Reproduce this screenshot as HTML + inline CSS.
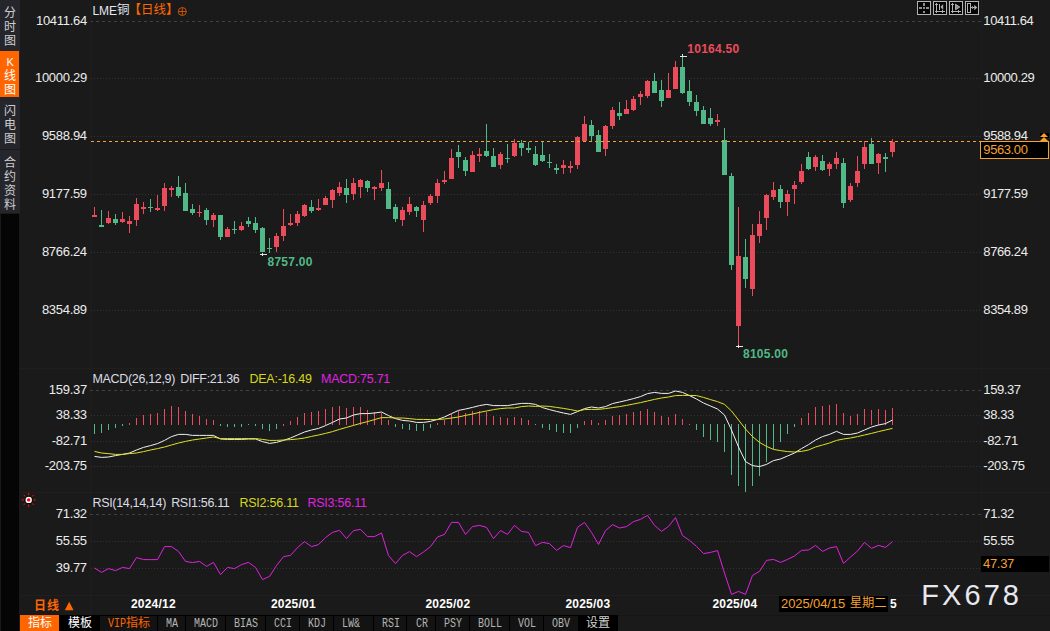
<!DOCTYPE html>
<html lang="zh"><head><meta charset="utf-8"><title>LME铜 日线</title>
<style>
html,body{margin:0;padding:0;background:#1a1a1a;}
body{width:1050px;height:631px;position:relative;overflow:hidden;font-family:"Liberation Sans",sans-serif;}
svg{position:absolute;left:0;top:0;}
.t{position:absolute;white-space:nowrap;}
.g{font-family:"Liberation Sans","Noto Sans CJK SC",sans-serif;pointer-events:none;}
</style></head><body>
<svg width="1050" height="631" viewBox="0 0 1050 631" shape-rendering="crispEdges">
<rect x="0" y="0" width="20" height="213" fill="#24262c"/>
<rect x="0" y="51" width="19" height="46" fill="#ff6600"/>
<rect x="0" y="149" width="20" height="1" fill="#1a1a1a"/>
<rect x="1" y="214" width="18" height="417" fill="#050505"/>
<line x1="90" y1="21.5" x2="981" y2="21.5" stroke="#404040" stroke-width="1" stroke-dasharray="3 3" stroke-dashoffset="0"/>
<line x1="90" y1="78.5" x2="981" y2="78.5" stroke="#333333" stroke-width="1" stroke-dasharray="1 2" stroke-dashoffset="-1"/>
<line x1="90" y1="136.5" x2="981" y2="136.5" stroke="#333333" stroke-width="1" stroke-dasharray="1 2" stroke-dashoffset="-1"/>
<line x1="90" y1="194.5" x2="981" y2="194.5" stroke="#333333" stroke-width="1" stroke-dasharray="1 2" stroke-dashoffset="-1"/>
<line x1="90" y1="252.5" x2="981" y2="252.5" stroke="#333333" stroke-width="1" stroke-dasharray="1 2" stroke-dashoffset="-1"/>
<line x1="90" y1="310.5" x2="981" y2="310.5" stroke="#333333" stroke-width="1" stroke-dasharray="1 2" stroke-dashoffset="-1"/>
<rect x="90" y="0" width="1" height="615" fill="#1e1e1e"/>
<rect x="981" y="0" width="1" height="596" fill="#1d1d1d"/>
<rect x="20" y="368" width="1030" height="1" fill="#1f1f1f"/>
<rect x="20" y="492" width="1030" height="1" fill="#1f1f1f"/>
<rect x="20" y="595" width="1030" height="1" fill="#1f1f1f"/>
<rect x="94" y="207" width="1" height="10" fill="#eb4c5c"/>
<rect x="92" y="215" width="5" height="2" fill="#eb4c5c"/>
<rect x="101" y="210" width="1" height="17" fill="#50b987"/>
<rect x="99" y="225" width="5" height="2" fill="#50b987"/>
<rect x="108" y="211" width="1" height="13" fill="#eb4c5c"/>
<rect x="106" y="218" width="5" height="5" fill="#eb4c5c"/>
<rect x="115" y="214" width="1" height="11" fill="#50b987"/>
<rect x="113" y="219" width="5" height="4" fill="#50b987"/>
<rect x="122" y="212" width="1" height="11" fill="#eb4c5c"/>
<rect x="120" y="219" width="5" height="3" fill="#eb4c5c"/>
<rect x="129" y="216" width="1" height="17" fill="#eb4c5c"/>
<rect x="127" y="221" width="5" height="3" fill="#eb4c5c"/>
<rect x="136" y="198" width="1" height="28" fill="#eb4c5c"/>
<rect x="134" y="204" width="5" height="16" fill="#eb4c5c"/>
<rect x="143" y="202" width="1" height="12" fill="#eb4c5c"/>
<rect x="141" y="207" width="5" height="2" fill="#eb4c5c"/>
<rect x="150" y="199" width="1" height="13" fill="#50b987"/>
<rect x="148" y="207" width="5" height="1" fill="#50b987"/>
<rect x="157" y="195" width="1" height="16" fill="#eb4c5c"/>
<rect x="155" y="208" width="5" height="2" fill="#eb4c5c"/>
<rect x="164" y="183" width="1" height="28" fill="#eb4c5c"/>
<rect x="162" y="188" width="5" height="18" fill="#eb4c5c"/>
<rect x="171" y="186" width="1" height="11" fill="#eb4c5c"/>
<rect x="169" y="188" width="5" height="2" fill="#eb4c5c"/>
<rect x="178" y="176" width="1" height="22" fill="#50b987"/>
<rect x="176" y="187" width="5" height="9" fill="#50b987"/>
<rect x="185" y="183" width="1" height="28" fill="#50b987"/>
<rect x="183" y="193" width="5" height="18" fill="#50b987"/>
<rect x="192" y="204" width="1" height="11" fill="#50b987"/>
<rect x="190" y="209" width="5" height="4" fill="#50b987"/>
<rect x="199" y="205" width="1" height="12" fill="#eb4c5c"/>
<rect x="197" y="212" width="5" height="1" fill="#eb4c5c"/>
<rect x="206" y="208" width="1" height="17" fill="#50b987"/>
<rect x="204" y="210" width="5" height="10" fill="#50b987"/>
<rect x="213" y="213" width="1" height="14" fill="#eb4c5c"/>
<rect x="211" y="215" width="5" height="5" fill="#eb4c5c"/>
<rect x="220" y="215" width="1" height="25" fill="#50b987"/>
<rect x="218" y="215" width="5" height="22" fill="#50b987"/>
<rect x="227" y="227" width="1" height="10" fill="#eb4c5c"/>
<rect x="225" y="229" width="5" height="8" fill="#eb4c5c"/>
<rect x="234" y="221" width="1" height="13" fill="#50b987"/>
<rect x="232" y="229" width="5" height="1" fill="#50b987"/>
<rect x="241" y="222" width="1" height="9" fill="#eb4c5c"/>
<rect x="239" y="226" width="5" height="4" fill="#eb4c5c"/>
<rect x="248" y="217" width="1" height="10" fill="#50b987"/>
<rect x="246" y="221" width="5" height="3" fill="#50b987"/>
<rect x="255" y="217" width="1" height="16" fill="#50b987"/>
<rect x="253" y="223" width="5" height="7" fill="#50b987"/>
<rect x="262" y="227" width="1" height="25" fill="#50b987"/>
<rect x="260" y="228" width="5" height="24" fill="#50b987"/>
<rect x="269" y="238" width="1" height="15" fill="#50b987"/>
<rect x="267" y="248" width="5" height="1" fill="#50b987"/>
<rect x="276" y="233" width="1" height="19" fill="#eb4c5c"/>
<rect x="274" y="236" width="5" height="11" fill="#eb4c5c"/>
<rect x="283" y="209" width="1" height="32" fill="#eb4c5c"/>
<rect x="281" y="226" width="5" height="10" fill="#eb4c5c"/>
<rect x="290" y="214" width="1" height="12" fill="#eb4c5c"/>
<rect x="288" y="223" width="5" height="2" fill="#eb4c5c"/>
<rect x="297" y="211" width="1" height="15" fill="#eb4c5c"/>
<rect x="295" y="214" width="5" height="9" fill="#eb4c5c"/>
<rect x="304" y="204" width="1" height="13" fill="#eb4c5c"/>
<rect x="302" y="205" width="5" height="11" fill="#eb4c5c"/>
<rect x="311" y="200" width="1" height="13" fill="#50b987"/>
<rect x="309" y="207" width="5" height="4" fill="#50b987"/>
<rect x="318" y="199" width="1" height="12" fill="#eb4c5c"/>
<rect x="316" y="208" width="5" height="2" fill="#eb4c5c"/>
<rect x="325" y="196" width="1" height="9" fill="#eb4c5c"/>
<rect x="323" y="198" width="5" height="7" fill="#eb4c5c"/>
<rect x="332" y="189" width="1" height="19" fill="#eb4c5c"/>
<rect x="330" y="190" width="5" height="10" fill="#eb4c5c"/>
<rect x="339" y="182" width="1" height="14" fill="#eb4c5c"/>
<rect x="337" y="187" width="5" height="6" fill="#eb4c5c"/>
<rect x="346" y="179" width="1" height="24" fill="#50b987"/>
<rect x="344" y="188" width="5" height="7" fill="#50b987"/>
<rect x="353" y="178" width="1" height="22" fill="#eb4c5c"/>
<rect x="351" y="183" width="5" height="11" fill="#eb4c5c"/>
<rect x="360" y="179" width="1" height="19" fill="#eb4c5c"/>
<rect x="358" y="180" width="5" height="7" fill="#eb4c5c"/>
<rect x="367" y="180" width="1" height="12" fill="#50b987"/>
<rect x="365" y="181" width="5" height="7" fill="#50b987"/>
<rect x="374" y="186" width="1" height="14" fill="#eb4c5c"/>
<rect x="372" y="187" width="5" height="2" fill="#eb4c5c"/>
<rect x="381" y="170" width="1" height="21" fill="#eb4c5c"/>
<rect x="379" y="183" width="5" height="5" fill="#eb4c5c"/>
<rect x="388" y="182" width="1" height="27" fill="#50b987"/>
<rect x="386" y="189" width="5" height="20" fill="#50b987"/>
<rect x="395" y="204" width="1" height="18" fill="#50b987"/>
<rect x="393" y="207" width="5" height="12" fill="#50b987"/>
<rect x="402" y="207" width="1" height="19" fill="#eb4c5c"/>
<rect x="400" y="210" width="5" height="10" fill="#eb4c5c"/>
<rect x="409" y="197" width="1" height="18" fill="#eb4c5c"/>
<rect x="407" y="204" width="5" height="8" fill="#eb4c5c"/>
<rect x="416" y="206" width="1" height="11" fill="#50b987"/>
<rect x="414" y="207" width="5" height="4" fill="#50b987"/>
<rect x="423" y="201" width="1" height="31" fill="#eb4c5c"/>
<rect x="421" y="205" width="5" height="15" fill="#eb4c5c"/>
<rect x="430" y="194" width="1" height="11" fill="#eb4c5c"/>
<rect x="428" y="196" width="5" height="7" fill="#eb4c5c"/>
<rect x="437" y="179" width="1" height="24" fill="#eb4c5c"/>
<rect x="435" y="183" width="5" height="13" fill="#eb4c5c"/>
<rect x="444" y="171" width="1" height="13" fill="#eb4c5c"/>
<rect x="442" y="180" width="5" height="2" fill="#eb4c5c"/>
<rect x="451" y="149" width="1" height="30" fill="#eb4c5c"/>
<rect x="449" y="158" width="5" height="21" fill="#eb4c5c"/>
<rect x="458" y="145" width="1" height="23" fill="#50b987"/>
<rect x="456" y="152" width="5" height="5" fill="#50b987"/>
<rect x="465" y="157" width="1" height="19" fill="#50b987"/>
<rect x="463" y="160" width="5" height="11" fill="#50b987"/>
<rect x="472" y="151" width="1" height="21" fill="#eb4c5c"/>
<rect x="470" y="155" width="5" height="17" fill="#eb4c5c"/>
<rect x="479" y="148" width="1" height="14" fill="#eb4c5c"/>
<rect x="477" y="154" width="5" height="2" fill="#eb4c5c"/>
<rect x="486" y="124" width="1" height="33" fill="#50b987"/>
<rect x="484" y="151" width="5" height="5" fill="#50b987"/>
<rect x="493" y="148" width="1" height="19" fill="#50b987"/>
<rect x="491" y="156" width="5" height="11" fill="#50b987"/>
<rect x="500" y="152" width="1" height="17" fill="#eb4c5c"/>
<rect x="498" y="154" width="5" height="11" fill="#eb4c5c"/>
<rect x="507" y="144" width="1" height="19" fill="#50b987"/>
<rect x="505" y="158" width="5" height="1" fill="#50b987"/>
<rect x="514" y="139" width="1" height="18" fill="#eb4c5c"/>
<rect x="512" y="143" width="5" height="13" fill="#eb4c5c"/>
<rect x="521" y="140" width="1" height="16" fill="#50b987"/>
<rect x="519" y="143" width="5" height="5" fill="#50b987"/>
<rect x="528" y="142" width="1" height="11" fill="#50b987"/>
<rect x="526" y="148" width="5" height="2" fill="#50b987"/>
<rect x="535" y="146" width="1" height="20" fill="#50b987"/>
<rect x="533" y="154" width="5" height="11" fill="#50b987"/>
<rect x="542" y="142" width="1" height="20" fill="#50b987"/>
<rect x="540" y="155" width="5" height="6" fill="#50b987"/>
<rect x="549" y="154" width="1" height="14" fill="#50b987"/>
<rect x="547" y="162" width="5" height="1" fill="#50b987"/>
<rect x="556" y="164" width="1" height="10" fill="#50b987"/>
<rect x="554" y="168" width="5" height="2" fill="#50b987"/>
<rect x="563" y="160" width="1" height="14" fill="#eb4c5c"/>
<rect x="561" y="165" width="5" height="3" fill="#eb4c5c"/>
<rect x="570" y="161" width="1" height="12" fill="#eb4c5c"/>
<rect x="568" y="166" width="5" height="2" fill="#eb4c5c"/>
<rect x="577" y="136" width="1" height="33" fill="#eb4c5c"/>
<rect x="575" y="137" width="5" height="28" fill="#eb4c5c"/>
<rect x="584" y="116" width="1" height="25" fill="#eb4c5c"/>
<rect x="582" y="124" width="5" height="17" fill="#eb4c5c"/>
<rect x="591" y="120" width="1" height="21" fill="#50b987"/>
<rect x="589" y="125" width="5" height="11" fill="#50b987"/>
<rect x="598" y="130" width="1" height="22" fill="#50b987"/>
<rect x="596" y="135" width="5" height="17" fill="#50b987"/>
<rect x="605" y="125" width="1" height="31" fill="#eb4c5c"/>
<rect x="603" y="126" width="5" height="23" fill="#eb4c5c"/>
<rect x="612" y="107" width="1" height="22" fill="#eb4c5c"/>
<rect x="610" y="110" width="5" height="16" fill="#eb4c5c"/>
<rect x="619" y="102" width="1" height="18" fill="#50b987"/>
<rect x="617" y="113" width="5" height="3" fill="#50b987"/>
<rect x="626" y="100" width="1" height="14" fill="#eb4c5c"/>
<rect x="624" y="109" width="5" height="5" fill="#eb4c5c"/>
<rect x="633" y="96" width="1" height="15" fill="#eb4c5c"/>
<rect x="631" y="99" width="5" height="11" fill="#eb4c5c"/>
<rect x="640" y="91" width="1" height="14" fill="#eb4c5c"/>
<rect x="638" y="94" width="5" height="3" fill="#eb4c5c"/>
<rect x="647" y="80" width="1" height="18" fill="#eb4c5c"/>
<rect x="645" y="81" width="5" height="15" fill="#eb4c5c"/>
<rect x="654" y="73" width="1" height="20" fill="#50b987"/>
<rect x="652" y="81" width="5" height="12" fill="#50b987"/>
<rect x="661" y="80" width="1" height="27" fill="#50b987"/>
<rect x="659" y="90" width="5" height="11" fill="#50b987"/>
<rect x="668" y="73" width="1" height="25" fill="#eb4c5c"/>
<rect x="666" y="90" width="5" height="8" fill="#eb4c5c"/>
<rect x="675" y="61" width="1" height="28" fill="#eb4c5c"/>
<rect x="673" y="67" width="5" height="22" fill="#eb4c5c"/>
<rect x="682" y="57" width="1" height="37" fill="#50b987"/>
<rect x="680" y="67" width="5" height="26" fill="#50b987"/>
<rect x="689" y="80" width="1" height="26" fill="#50b987"/>
<rect x="687" y="91" width="5" height="11" fill="#50b987"/>
<rect x="696" y="95" width="1" height="21" fill="#50b987"/>
<rect x="694" y="102" width="5" height="9" fill="#50b987"/>
<rect x="703" y="106" width="1" height="18" fill="#50b987"/>
<rect x="701" y="110" width="5" height="14" fill="#50b987"/>
<rect x="710" y="108" width="1" height="18" fill="#50b987"/>
<rect x="708" y="118" width="5" height="6" fill="#50b987"/>
<rect x="717" y="114" width="1" height="12" fill="#eb4c5c"/>
<rect x="715" y="120" width="5" height="2" fill="#eb4c5c"/>
<rect x="724" y="128" width="1" height="47" fill="#50b987"/>
<rect x="722" y="140" width="5" height="35" fill="#50b987"/>
<rect x="731" y="173" width="1" height="97" fill="#50b987"/>
<rect x="729" y="176" width="5" height="89" fill="#50b987"/>
<rect x="738" y="207" width="1" height="139" fill="#eb4c5c"/>
<rect x="736" y="256" width="5" height="70" fill="#eb4c5c"/>
<rect x="745" y="239" width="1" height="49" fill="#50b987"/>
<rect x="743" y="257" width="5" height="22" fill="#50b987"/>
<rect x="752" y="224" width="1" height="72" fill="#eb4c5c"/>
<rect x="750" y="235" width="5" height="54" fill="#eb4c5c"/>
<rect x="759" y="211" width="1" height="32" fill="#eb4c5c"/>
<rect x="757" y="224" width="5" height="12" fill="#eb4c5c"/>
<rect x="766" y="194" width="1" height="36" fill="#eb4c5c"/>
<rect x="764" y="195" width="5" height="23" fill="#eb4c5c"/>
<rect x="773" y="182" width="1" height="18" fill="#eb4c5c"/>
<rect x="771" y="190" width="5" height="7" fill="#eb4c5c"/>
<rect x="780" y="185" width="1" height="23" fill="#50b987"/>
<rect x="778" y="189" width="5" height="13" fill="#50b987"/>
<rect x="787" y="190" width="1" height="26" fill="#eb4c5c"/>
<rect x="785" y="194" width="5" height="8" fill="#eb4c5c"/>
<rect x="794" y="181" width="1" height="23" fill="#eb4c5c"/>
<rect x="792" y="185" width="5" height="4" fill="#eb4c5c"/>
<rect x="801" y="164" width="1" height="20" fill="#eb4c5c"/>
<rect x="799" y="171" width="5" height="11" fill="#eb4c5c"/>
<rect x="808" y="152" width="1" height="18" fill="#50b987"/>
<rect x="806" y="157" width="5" height="12" fill="#50b987"/>
<rect x="815" y="155" width="1" height="16" fill="#eb4c5c"/>
<rect x="813" y="157" width="5" height="10" fill="#eb4c5c"/>
<rect x="822" y="155" width="1" height="16" fill="#50b987"/>
<rect x="820" y="161" width="5" height="9" fill="#50b987"/>
<rect x="829" y="162" width="1" height="14" fill="#eb4c5c"/>
<rect x="827" y="164" width="5" height="5" fill="#eb4c5c"/>
<rect x="836" y="152" width="1" height="17" fill="#eb4c5c"/>
<rect x="834" y="158" width="5" height="6" fill="#eb4c5c"/>
<rect x="843" y="158" width="1" height="50" fill="#50b987"/>
<rect x="841" y="163" width="5" height="40" fill="#50b987"/>
<rect x="850" y="183" width="1" height="19" fill="#eb4c5c"/>
<rect x="848" y="186" width="5" height="14" fill="#eb4c5c"/>
<rect x="857" y="156" width="1" height="31" fill="#eb4c5c"/>
<rect x="855" y="171" width="5" height="12" fill="#eb4c5c"/>
<rect x="864" y="141" width="1" height="28" fill="#eb4c5c"/>
<rect x="862" y="147" width="5" height="17" fill="#eb4c5c"/>
<rect x="871" y="138" width="1" height="26" fill="#50b987"/>
<rect x="869" y="144" width="5" height="20" fill="#50b987"/>
<rect x="878" y="153" width="1" height="21" fill="#eb4c5c"/>
<rect x="876" y="154" width="5" height="9" fill="#eb4c5c"/>
<rect x="885" y="153" width="1" height="19" fill="#50b987"/>
<rect x="883" y="157" width="5" height="2" fill="#50b987"/>
<rect x="892" y="139" width="1" height="18" fill="#eb4c5c"/>
<rect x="890" y="142" width="5" height="10" fill="#eb4c5c"/>
<line x1="90" y1="141.5" x2="981" y2="141.5" stroke="#f5a032" stroke-width="1" stroke-dasharray="3 3" stroke-dashoffset="-1"/>
<rect x="680" y="56" width="7" height="1" fill="#e4e4e4"/>
<rect x="682" y="54" width="1" height="3" fill="#e4e4e4"/>
<rect x="260" y="254" width="7" height="1" fill="#e4e4e4"/>
<rect x="262" y="253" width="1" height="3" fill="#e4e4e4"/>
<rect x="736" y="346" width="7" height="1" fill="#e4e4e4"/>
<rect x="738" y="345" width="1" height="3" fill="#e4e4e4"/>
<rect x="980.5" y="141.5" width="68" height="17" fill="#000" stroke="#f5a032" stroke-width="1"/>
<rect x="1040" y="133" width="9" height="5" fill="#000"/>
<rect x="973" y="141" width="3" height="1" fill="#f5a032"/>
<rect x="981" y="556" width="68" height="16" fill="#000"/>
<line x1="90" y1="390.5" x2="981" y2="390.5" stroke="#404040" stroke-width="1" stroke-dasharray="3 3" stroke-dashoffset="0"/>
<line x1="90" y1="415.5" x2="981" y2="415.5" stroke="#333333" stroke-width="1" stroke-dasharray="1 2" stroke-dashoffset="-1"/>
<line x1="90" y1="441.5" x2="981" y2="441.5" stroke="#333333" stroke-width="1" stroke-dasharray="1 2" stroke-dashoffset="-1"/>
<line x1="90" y1="466.5" x2="981" y2="466.5" stroke="#333333" stroke-width="1" stroke-dasharray="1 2" stroke-dashoffset="-1"/>
<rect x="94" y="424" width="1" height="10" fill="#50b987"/>
<rect x="101" y="424" width="1" height="9" fill="#50b987"/>
<rect x="108" y="424" width="1" height="6" fill="#50b987"/>
<rect x="115" y="424" width="1" height="4" fill="#50b987"/>
<rect x="122" y="424" width="1" height="2" fill="#50b987"/>
<rect x="129" y="423" width="1" height="2" fill="#eb4c5c"/>
<rect x="136" y="418" width="1" height="7" fill="#eb4c5c"/>
<rect x="143" y="415" width="1" height="10" fill="#eb4c5c"/>
<rect x="150" y="414" width="1" height="11" fill="#eb4c5c"/>
<rect x="157" y="413" width="1" height="12" fill="#eb4c5c"/>
<rect x="164" y="409" width="1" height="16" fill="#eb4c5c"/>
<rect x="171" y="406" width="1" height="19" fill="#eb4c5c"/>
<rect x="178" y="407" width="1" height="18" fill="#eb4c5c"/>
<rect x="185" y="411" width="1" height="14" fill="#eb4c5c"/>
<rect x="192" y="414" width="1" height="11" fill="#eb4c5c"/>
<rect x="199" y="416" width="1" height="9" fill="#eb4c5c"/>
<rect x="206" y="419" width="1" height="6" fill="#eb4c5c"/>
<rect x="213" y="420" width="1" height="5" fill="#eb4c5c"/>
<rect x="220" y="424" width="1" height="2" fill="#50b987"/>
<rect x="227" y="424" width="1" height="3" fill="#50b987"/>
<rect x="234" y="424" width="1" height="3" fill="#50b987"/>
<rect x="241" y="424" width="1" height="3" fill="#50b987"/>
<rect x="248" y="424" width="1" height="1" fill="#50b987"/>
<rect x="255" y="424" width="1" height="2" fill="#50b987"/>
<rect x="262" y="424" width="1" height="5" fill="#50b987"/>
<rect x="269" y="424" width="1" height="7" fill="#50b987"/>
<rect x="276" y="424" width="1" height="5" fill="#50b987"/>
<rect x="283" y="424" width="1" height="2" fill="#eb4c5c"/>
<rect x="290" y="421" width="1" height="4" fill="#eb4c5c"/>
<rect x="297" y="417" width="1" height="8" fill="#eb4c5c"/>
<rect x="304" y="413" width="1" height="12" fill="#eb4c5c"/>
<rect x="311" y="412" width="1" height="13" fill="#eb4c5c"/>
<rect x="318" y="411" width="1" height="14" fill="#eb4c5c"/>
<rect x="325" y="409" width="1" height="16" fill="#eb4c5c"/>
<rect x="332" y="407" width="1" height="18" fill="#eb4c5c"/>
<rect x="339" y="406" width="1" height="19" fill="#eb4c5c"/>
<rect x="346" y="408" width="1" height="17" fill="#eb4c5c"/>
<rect x="353" y="407" width="1" height="18" fill="#eb4c5c"/>
<rect x="360" y="407" width="1" height="18" fill="#eb4c5c"/>
<rect x="367" y="410" width="1" height="15" fill="#eb4c5c"/>
<rect x="374" y="412" width="1" height="13" fill="#eb4c5c"/>
<rect x="381" y="413" width="1" height="12" fill="#eb4c5c"/>
<rect x="388" y="420" width="1" height="5" fill="#eb4c5c"/>
<rect x="395" y="424" width="1" height="3" fill="#50b987"/>
<rect x="402" y="424" width="1" height="5" fill="#50b987"/>
<rect x="409" y="424" width="1" height="6" fill="#50b987"/>
<rect x="416" y="424" width="1" height="7" fill="#50b987"/>
<rect x="423" y="424" width="1" height="7" fill="#50b987"/>
<rect x="430" y="424" width="1" height="4" fill="#50b987"/>
<rect x="437" y="423" width="1" height="2" fill="#eb4c5c"/>
<rect x="444" y="420" width="1" height="5" fill="#eb4c5c"/>
<rect x="451" y="414" width="1" height="11" fill="#eb4c5c"/>
<rect x="458" y="411" width="1" height="14" fill="#eb4c5c"/>
<rect x="465" y="413" width="1" height="12" fill="#eb4c5c"/>
<rect x="472" y="411" width="1" height="14" fill="#eb4c5c"/>
<rect x="479" y="411" width="1" height="14" fill="#eb4c5c"/>
<rect x="486" y="412" width="1" height="13" fill="#eb4c5c"/>
<rect x="493" y="416" width="1" height="9" fill="#eb4c5c"/>
<rect x="500" y="417" width="1" height="8" fill="#eb4c5c"/>
<rect x="507" y="418" width="1" height="7" fill="#eb4c5c"/>
<rect x="514" y="417" width="1" height="8" fill="#eb4c5c"/>
<rect x="521" y="418" width="1" height="7" fill="#eb4c5c"/>
<rect x="528" y="420" width="1" height="5" fill="#eb4c5c"/>
<rect x="535" y="424" width="1" height="1" fill="#50b987"/>
<rect x="542" y="424" width="1" height="4" fill="#50b987"/>
<rect x="549" y="424" width="1" height="6" fill="#50b987"/>
<rect x="556" y="424" width="1" height="8" fill="#50b987"/>
<rect x="563" y="424" width="1" height="9" fill="#50b987"/>
<rect x="570" y="424" width="1" height="9" fill="#50b987"/>
<rect x="577" y="424" width="1" height="4" fill="#50b987"/>
<rect x="584" y="421" width="1" height="4" fill="#eb4c5c"/>
<rect x="591" y="420" width="1" height="5" fill="#eb4c5c"/>
<rect x="598" y="423" width="1" height="2" fill="#eb4c5c"/>
<rect x="605" y="420" width="1" height="5" fill="#eb4c5c"/>
<rect x="612" y="416" width="1" height="9" fill="#eb4c5c"/>
<rect x="619" y="415" width="1" height="10" fill="#eb4c5c"/>
<rect x="626" y="414" width="1" height="11" fill="#eb4c5c"/>
<rect x="633" y="412" width="1" height="13" fill="#eb4c5c"/>
<rect x="640" y="411" width="1" height="14" fill="#eb4c5c"/>
<rect x="647" y="409" width="1" height="16" fill="#eb4c5c"/>
<rect x="654" y="412" width="1" height="13" fill="#eb4c5c"/>
<rect x="661" y="416" width="1" height="9" fill="#eb4c5c"/>
<rect x="668" y="417" width="1" height="8" fill="#eb4c5c"/>
<rect x="675" y="414" width="1" height="11" fill="#eb4c5c"/>
<rect x="682" y="419" width="1" height="6" fill="#eb4c5c"/>
<rect x="689" y="424" width="1" height="1" fill="#eb4c5c"/>
<rect x="696" y="424" width="1" height="6" fill="#50b987"/>
<rect x="703" y="424" width="1" height="13" fill="#50b987"/>
<rect x="710" y="424" width="1" height="16" fill="#50b987"/>
<rect x="717" y="424" width="1" height="18" fill="#50b987"/>
<rect x="724" y="424" width="1" height="28" fill="#50b987"/>
<rect x="731" y="424" width="1" height="51" fill="#50b987"/>
<rect x="738" y="424" width="1" height="62" fill="#50b987"/>
<rect x="745" y="424" width="1" height="68" fill="#50b987"/>
<rect x="752" y="424" width="1" height="62" fill="#50b987"/>
<rect x="759" y="424" width="1" height="52" fill="#50b987"/>
<rect x="766" y="424" width="1" height="38" fill="#50b987"/>
<rect x="773" y="424" width="1" height="25" fill="#50b987"/>
<rect x="780" y="424" width="1" height="18" fill="#50b987"/>
<rect x="787" y="424" width="1" height="10" fill="#50b987"/>
<rect x="794" y="424" width="1" height="3" fill="#50b987"/>
<rect x="801" y="418" width="1" height="7" fill="#eb4c5c"/>
<rect x="808" y="413" width="1" height="12" fill="#eb4c5c"/>
<rect x="815" y="407" width="1" height="18" fill="#eb4c5c"/>
<rect x="822" y="406" width="1" height="19" fill="#eb4c5c"/>
<rect x="829" y="405" width="1" height="20" fill="#eb4c5c"/>
<rect x="836" y="404" width="1" height="21" fill="#eb4c5c"/>
<rect x="843" y="413" width="1" height="12" fill="#eb4c5c"/>
<rect x="850" y="416" width="1" height="9" fill="#eb4c5c"/>
<rect x="857" y="414" width="1" height="11" fill="#eb4c5c"/>
<rect x="864" y="409" width="1" height="16" fill="#eb4c5c"/>
<rect x="871" y="410" width="1" height="15" fill="#eb4c5c"/>
<rect x="878" y="409" width="1" height="16" fill="#eb4c5c"/>
<rect x="885" y="410" width="1" height="15" fill="#eb4c5c"/>
<rect x="892" y="408" width="1" height="17" fill="#eb4c5c"/>
<line x1="90" y1="514.5" x2="981" y2="514.5" stroke="#404040" stroke-width="1" stroke-dasharray="3 3" stroke-dashoffset="0"/>
<line x1="90" y1="541.5" x2="981" y2="541.5" stroke="#333333" stroke-width="1" stroke-dasharray="1 2" stroke-dashoffset="-1"/>
<line x1="90" y1="568.5" x2="981" y2="568.5" stroke="#333333" stroke-width="1" stroke-dasharray="1 2" stroke-dashoffset="-1"/>
<rect x="917.5" y="1.5" width="13" height="13" fill="#050505" stroke="#b4b4b4" stroke-width="1"/>
<rect x="933.5" y="1.5" width="13" height="13" fill="#050505" stroke="#b4b4b4" stroke-width="1"/>
<rect x="949.5" y="1.5" width="13" height="13" fill="#050505" stroke="#b4b4b4" stroke-width="1"/>
<rect x="965.5" y="1.5" width="13" height="13" fill="#050505" stroke="#b4b4b4" stroke-width="1"/>
<rect x="923" y="3" width="2" height="3" fill="#8e8e8e"/>
<rect x="923" y="11" width="2" height="2" fill="#8e8e8e"/>
<rect x="919" y="7" width="3" height="2" fill="#8e8e8e"/>
<rect x="926" y="7" width="3" height="2" fill="#8e8e8e"/>
<rect x="923" y="7" width="2" height="2" fill="#8e8e8e"/>
<rect x="936" y="3" width="1" height="10" fill="#b4b4b4"/>
<rect x="935" y="4" width="3" height="1" fill="#b4b4b4"/>
<rect x="935" y="11" width="10" height="1" fill="#b4b4b4"/>
<rect x="942" y="10" width="1" height="3" fill="#b4b4b4"/>
<rect x="952" y="3" width="1" height="10" fill="#b4b4b4"/>
<rect x="951" y="4" width="3" height="1" fill="#b4b4b4"/>
<rect x="951" y="11" width="10" height="1" fill="#b4b4b4"/>
<rect x="958" y="10" width="1" height="3" fill="#b4b4b4"/>
<rect x="939" y="4" width="1" height="6" fill="#b4b4b4"/>
<rect x="967.5" y="3.5" width="3" height="9" fill="none" stroke="#b4b4b4" stroke-width="1"/>
<rect x="971" y="7" width="5" height="1" fill="#b4b4b4"/>
<rect x="972" y="6" width="1" height="3" fill="#8e8e8e"/>
<rect x="779" y="596" width="109" height="16" fill="#000"/>
<rect x="20" y="615" width="598" height="16" fill="#131313"/>
<rect x="20" y="615" width="598" height="1" fill="#000"/>
<rect x="618" y="615" width="432" height="1" fill="#161616"/>
<rect x="20" y="615" width="39" height="16" fill="#ff6600"/>
<rect x="59" y="615" width="41" height="16" fill="#000"/>
<rect x="578" y="615" width="40" height="16" fill="#000"/>
<rect x="157" y="615" width="1" height="16" fill="#000"/>
<rect x="185" y="615" width="1" height="16" fill="#000"/>
<rect x="225" y="615" width="1" height="16" fill="#000"/>
<rect x="265" y="615" width="1" height="16" fill="#000"/>
<rect x="299" y="615" width="1" height="16" fill="#000"/>
<rect x="333" y="615" width="1" height="16" fill="#000"/>
<rect x="373" y="615" width="1" height="16" fill="#000"/>
<rect x="406" y="615" width="1" height="16" fill="#000"/>
<rect x="435" y="615" width="1" height="16" fill="#000"/>
<rect x="469" y="615" width="1" height="16" fill="#000"/>
<rect x="509" y="615" width="1" height="16" fill="#000"/>
<rect x="543" y="615" width="1" height="16" fill="#000"/>
<rect x="99" y="615" width="1" height="16" fill="#000"/>
<rect x="157" y="615" width="1" height="16" fill="#000"/>
<rect x="617" y="615" width="1" height="16" fill="#000"/>
<g shape-rendering="geometricPrecision">
<path d="M1040 137 L1044 133 L1048 137Z M1040 141 L1044 137 L1048 141Z" fill="#f5a032"/>
<polyline points="94.5,456.4 101.5,457.4 108.5,457.0 115.5,455.6 122.5,454.4 129.5,453.0 136.5,450.0 143.5,447.4 150.5,445.6 157.5,443.6 164.5,440.4 171.5,436.6 178.5,434.4 185.5,434.4 192.5,435.4 199.5,435.4 206.5,435.4 213.5,435.4 220.5,439.0 227.5,439.4 234.5,439.4 241.5,439.4 248.5,439.0 255.5,439.0 262.5,441.6 269.5,443.4 276.5,442.4 283.5,440.4 290.5,438.0 297.5,435.0 304.5,432.0 311.5,430.0 318.5,428.4 325.5,425.6 332.5,422.4 339.5,419.0 346.5,418.0 353.5,415.0 360.5,413.6 367.5,413.6 374.5,413.0 381.5,412.0 388.5,415.6 395.5,418.6 402.5,420.4 409.5,421.0 416.5,422.4 423.5,422.4 430.5,421.4 437.5,419.4 444.5,417.0 451.5,413.6 458.5,410.4 465.5,409.0 472.5,407.4 479.5,405.6 486.5,404.4 493.5,405.6 500.5,405.6 507.5,405.6 514.5,404.4 521.5,403.4 528.5,403.4 535.5,404.4 542.5,407.6 549.5,409.6 556.5,411.4 563.5,413.0 570.5,414.4 577.5,411.6 584.5,408.6 591.5,407.0 598.5,408.0 605.5,406.6 612.5,403.6 619.5,402.0 626.5,400.4 633.5,398.6 640.5,396.6 647.5,393.6 654.5,392.4 661.5,393.4 668.5,393.4 675.5,391.0 682.5,392.4 689.5,395.6 696.5,399.0 703.5,403.0 710.5,406.0 717.5,409.0 724.5,415.0 731.5,430.0 738.5,447.0 745.5,461.6 752.5,465.6 759.5,466.6 766.5,464.4 773.5,460.6 780.5,459.0 787.5,456.0 794.5,453.0 801.5,448.6 808.5,444.6 815.5,440.0 822.5,436.6 829.5,434.4 836.5,431.4 843.5,434.4 850.5,434.4 857.5,433.0 864.5,430.0 871.5,427.0 878.5,425.0 885.5,423.6 892.5,420.0" fill="none" stroke="#f2f2f2" stroke-width="1.0" stroke-linejoin="round"/>
<polyline points="94.5,451.4 101.5,453.0 108.5,453.6 115.5,454.4 122.5,454.4 129.5,453.6 136.5,453.0 143.5,451.6 150.5,450.0 157.5,448.6 164.5,447.0 171.5,445.0 178.5,443.0 185.5,441.4 192.5,440.0 199.5,439.0 206.5,438.0 213.5,437.0 220.5,438.6 227.5,438.6 234.5,438.6 241.5,438.6 248.5,438.6 255.5,438.6 262.5,439.4 269.5,440.4 276.5,440.4 283.5,440.0 290.5,439.6 297.5,439.0 304.5,438.0 311.5,436.4 318.5,435.0 325.5,433.4 332.5,431.6 339.5,429.4 346.5,427.4 353.5,425.4 360.5,423.4 367.5,421.6 374.5,419.6 381.5,417.6 388.5,417.6 395.5,418.0 402.5,418.0 409.5,418.6 416.5,419.4 423.5,419.4 430.5,419.6 437.5,419.6 444.5,419.0 451.5,418.0 458.5,417.0 465.5,415.4 472.5,414.0 479.5,412.4 486.5,411.0 493.5,409.6 500.5,408.6 507.5,408.0 514.5,408.0 521.5,406.6 528.5,406.0 535.5,406.4 542.5,406.0 549.5,406.4 556.5,407.4 563.5,408.4 570.5,409.6 577.5,411.0 584.5,409.6 591.5,409.4 598.5,409.4 605.5,408.6 612.5,407.6 619.5,406.6 626.5,405.4 633.5,404.0 640.5,402.6 647.5,401.0 654.5,399.4 661.5,398.0 668.5,397.0 675.5,395.6 682.5,395.4 689.5,395.4 696.5,395.6 703.5,397.4 710.5,399.6 717.5,401.6 724.5,404.4 731.5,411.0 738.5,420.0 745.5,429.0 752.5,436.6 759.5,442.4 766.5,446.4 773.5,449.4 780.5,450.6 787.5,451.6 794.5,452.0 801.5,451.4 808.5,450.0 815.5,447.0 822.5,445.0 829.5,443.0 836.5,440.4 843.5,439.0 850.5,438.0 857.5,436.6 864.5,435.0 871.5,433.4 878.5,431.6 885.5,430.0 892.5,428.4" fill="none" stroke="#e2e21e" stroke-width="1.0" stroke-linejoin="round"/>
<polyline points="94.5,568.0 101.5,572.4 108.5,568.6 115.5,570.6 122.5,567.4 129.5,568.6 136.5,557.6 143.5,559.6 150.5,559.6 157.5,559.6 164.5,546.6 171.5,546.6 178.5,551.4 185.5,561.4 192.5,562.6 199.5,561.4 206.5,566.4 213.5,562.4 220.5,574.6 227.5,567.4 234.5,568.6 241.5,564.6 248.5,562.4 255.5,567.4 262.5,579.6 269.5,576.4 276.5,565.6 283.5,556.6 290.5,555.4 297.5,547.6 304.5,541.6 311.5,546.6 318.5,544.6 325.5,537.6 332.5,532.4 339.5,530.4 346.5,538.6 353.5,530.6 360.5,529.4 367.5,536.6 374.5,536.6 381.5,533.0 388.5,555.6 395.5,563.6 402.5,555.4 409.5,551.6 416.5,556.6 423.5,552.0 430.5,546.6 437.5,537.0 444.5,534.4 451.5,522.4 458.5,522.4 465.5,534.4 472.5,526.6 479.5,525.4 486.5,527.4 493.5,538.6 500.5,530.6 507.5,534.4 514.5,525.4 521.5,531.4 528.5,532.4 535.5,545.6 542.5,542.4 549.5,543.6 556.5,550.4 563.5,545.6 570.5,547.6 577.5,527.4 584.5,522.4 591.5,532.4 598.5,544.4 605.5,530.6 612.5,524.6 619.5,528.0 626.5,526.6 633.5,521.6 640.5,519.4 647.5,515.4 654.5,525.4 661.5,531.4 668.5,526.4 675.5,517.6 682.5,535.6 689.5,540.4 696.5,546.4 703.5,553.6 710.5,552.4 717.5,550.6 724.5,573.0 731.5,594.4 738.5,591.4 745.5,594.4 752.5,575.4 759.5,571.4 766.5,560.4 773.5,559.4 780.5,562.4 787.5,559.4 794.5,556.0 801.5,550.4 808.5,550.0 815.5,545.4 822.5,551.4 829.5,548.0 836.5,546.6 843.5,563.4 850.5,557.0 857.5,551.0 864.5,542.4 871.5,548.4 878.5,545.4 885.5,547.4 892.5,541.6" fill="none" stroke="#e022e0" stroke-width="1.0" stroke-linejoin="round"/>
<path d="M33.50 499.90L35.70 499.90M32.09 503.29L33.65 504.85M28.70 504.70L28.70 506.90M25.31 503.29L23.75 504.85M23.90 499.90L21.70 499.90M25.31 496.51L23.75 494.95M28.70 495.10L28.70 492.90M32.09 496.51L33.65 494.95" stroke="#ff1010" stroke-width="1" fill="none"/>
<circle cx="28.7" cy="499.9" r="4" fill="#000"/><circle cx="28.7" cy="499.9" r="3.2" fill="#fff"/><circle cx="28.7" cy="499.9" r="1.7" fill="#f00"/>
<g stroke="#d85800" stroke-width="0.9" fill="none"><circle cx="182.3" cy="11.5" r="4"/><path d="M178.3 11.5H186.3M182.3 7.5V15.5"/></g>
<path d="M943.2 4V10L940.4 7Z" fill="#a8a8a8"/>
<path d="M955.5 4.2V9.8L959.8 7Z" fill="#8e8e8e" stroke="#b4b4b4" stroke-width="0.9" stroke-linejoin="round"/>
<path d="M974.3 4.8L977.2 7.5L974.3 10.2Z" fill="#b4b4b4"/>
<path d="M64.8 610.2L69.2 601.8L73.6 610.2Z" fill="#ff6600"/>
</g>
</svg>
<div class="t g" style="left:4.0px;top:7.0px;font-size:12px;line-height:12px;color:#cfcfcf">分</div>
<div class="t g" style="left:4.0px;top:21.0px;font-size:12px;line-height:12px;color:#cfcfcf">时</div>
<div class="t g" style="left:4.0px;top:35.0px;font-size:12px;line-height:12px;color:#cfcfcf">图</div>
<div class="t g" style="left:6.5px;top:56.0px;font-size:11px;line-height:12px;color:#ffffff">K</div>
<div class="t g" style="left:4.0px;top:70.0px;font-size:12px;line-height:12px;color:#ffffff">线</div>
<div class="t g" style="left:4.0px;top:84.0px;font-size:12px;line-height:12px;color:#ffffff">图</div>
<div class="t g" style="left:4.0px;top:105.0px;font-size:12px;line-height:12px;color:#cfcfcf">闪</div>
<div class="t g" style="left:4.0px;top:119.0px;font-size:12px;line-height:12px;color:#cfcfcf">电</div>
<div class="t g" style="left:4.0px;top:133.0px;font-size:12px;line-height:12px;color:#cfcfcf">图</div>
<div class="t g" style="left:4.0px;top:157.0px;font-size:12px;line-height:12px;color:#cfcfcf">合</div>
<div class="t g" style="left:4.0px;top:171.0px;font-size:12px;line-height:12px;color:#cfcfcf">约</div>
<div class="t g" style="left:4.0px;top:185.0px;font-size:12px;line-height:12px;color:#cfcfcf">资</div>
<div class="t g" style="left:4.0px;top:199.0px;font-size:12px;line-height:12px;color:#cfcfcf">料</div>
<div class="t" style="top:41.50px;font-size:12px;line-height:14px;color:#eb4c5c;font-weight:bold;letter-spacing:0.25px;left:687.3px;">10164.50</div>
<div class="t" style="top:254.50px;font-size:12px;line-height:14px;color:#50b987;font-weight:bold;letter-spacing:0.25px;left:267.5px;">8757.00</div>
<div class="t" style="top:346.50px;font-size:12px;line-height:14px;color:#50b987;font-weight:bold;letter-spacing:0.25px;left:743px;">8105.00</div>
<div class="t" style="top:13.00px;font-size:13px;line-height:15px;color:#ececec;letter-spacing:-0.3px;left:-113.2px;width:200px;text-align:right;">10411.64</div>
<div class="t" style="top:13.00px;font-size:13px;line-height:15px;color:#ececec;letter-spacing:-0.4px;left:983.3px;">10411.64</div>
<div class="t" style="top:70.00px;font-size:13px;line-height:15px;color:#ececec;letter-spacing:-0.3px;left:-113.2px;width:200px;text-align:right;">10000.29</div>
<div class="t" style="top:70.00px;font-size:13px;line-height:15px;color:#ececec;letter-spacing:-0.4px;left:983.3px;">10000.29</div>
<div class="t" style="top:128.00px;font-size:13px;line-height:15px;color:#ececec;letter-spacing:-0.3px;left:-113.2px;width:200px;text-align:right;">9588.94</div>
<div class="t" style="top:128.00px;font-size:13px;line-height:15px;color:#ececec;letter-spacing:-0.4px;left:983.3px;">9588.94</div>
<div class="t" style="top:186.00px;font-size:13px;line-height:15px;color:#ececec;letter-spacing:-0.3px;left:-113.2px;width:200px;text-align:right;">9177.59</div>
<div class="t" style="top:186.00px;font-size:13px;line-height:15px;color:#ececec;letter-spacing:-0.4px;left:983.3px;">9177.59</div>
<div class="t" style="top:244.00px;font-size:13px;line-height:15px;color:#ececec;letter-spacing:-0.3px;left:-113.2px;width:200px;text-align:right;">8766.24</div>
<div class="t" style="top:244.00px;font-size:13px;line-height:15px;color:#ececec;letter-spacing:-0.4px;left:983.3px;">8766.24</div>
<div class="t" style="top:302.00px;font-size:13px;line-height:15px;color:#ececec;letter-spacing:-0.3px;left:-113.2px;width:200px;text-align:right;">8354.89</div>
<div class="t" style="top:302.00px;font-size:13px;line-height:15px;color:#ececec;letter-spacing:-0.4px;left:983.3px;">8354.89</div>
<div class="t" style="top:382.00px;font-size:13px;line-height:15px;color:#ececec;letter-spacing:-0.3px;left:-113.2px;width:200px;text-align:right;">159.37</div>
<div class="t" style="top:382.00px;font-size:13px;line-height:15px;color:#ececec;letter-spacing:-0.4px;left:983.3px;">159.37</div>
<div class="t" style="top:407.00px;font-size:13px;line-height:15px;color:#ececec;letter-spacing:-0.3px;left:-113.2px;width:200px;text-align:right;">38.33</div>
<div class="t" style="top:407.00px;font-size:13px;line-height:15px;color:#ececec;letter-spacing:-0.4px;left:983.3px;">38.33</div>
<div class="t" style="top:433.00px;font-size:13px;line-height:15px;color:#ececec;letter-spacing:-0.3px;left:-113.2px;width:200px;text-align:right;">-82.71</div>
<div class="t" style="top:433.00px;font-size:13px;line-height:15px;color:#ececec;letter-spacing:-0.4px;left:983.3px;">-82.71</div>
<div class="t" style="top:458.00px;font-size:13px;line-height:15px;color:#ececec;letter-spacing:-0.3px;left:-113.2px;width:200px;text-align:right;">-203.75</div>
<div class="t" style="top:458.00px;font-size:13px;line-height:15px;color:#ececec;letter-spacing:-0.4px;left:983.3px;">-203.75</div>
<div class="t" style="top:506.00px;font-size:13px;line-height:15px;color:#ececec;letter-spacing:-0.3px;left:-113.2px;width:200px;text-align:right;">71.32</div>
<div class="t" style="top:506.00px;font-size:13px;line-height:15px;color:#ececec;letter-spacing:-0.4px;left:983.3px;">71.32</div>
<div class="t" style="top:533.00px;font-size:13px;line-height:15px;color:#ececec;letter-spacing:-0.3px;left:-113.2px;width:200px;text-align:right;">55.55</div>
<div class="t" style="top:533.00px;font-size:13px;line-height:15px;color:#ececec;letter-spacing:-0.4px;left:983.3px;">55.55</div>
<div class="t" style="top:560.00px;font-size:13px;line-height:15px;color:#ececec;letter-spacing:-0.3px;left:-113.2px;width:200px;text-align:right;">39.77</div>
<div class="t" style="top:141.50px;font-size:13px;line-height:15px;color:#f5a032;letter-spacing:-0.4px;left:983.3px;">9563.00</div>
<div class="t" style="top:555.50px;font-size:13px;line-height:15px;color:#f5a032;letter-spacing:-0.3px;left:983px;">47.37</div>
<div class="t" style="top:372.45px;font-size:12.5px;line-height:14.5px;color:#dcdce4;letter-spacing:-0.33px;left:92.5px;word-spacing:2px;">MACD(26,12,9) DIFF:21.36</div>
<div class="t" style="top:372.45px;font-size:12.5px;line-height:14.5px;color:#d6d61e;letter-spacing:-0.25px;left:249.5px;">DEA:-16.49</div>
<div class="t" style="top:372.45px;font-size:12.5px;line-height:14.5px;color:#e022e0;letter-spacing:-0.25px;left:321px;">MACD:75.71</div>
<div class="t" style="top:496.45px;font-size:12.5px;line-height:14.5px;color:#dcdce4;letter-spacing:-0.33px;left:92.5px;word-spacing:2px;">RSI(14,14,14) RSI1:56.11</div>
<div class="t" style="top:496.45px;font-size:12.5px;line-height:14.5px;color:#d6d61e;letter-spacing:-0.25px;left:239.5px;">RSI2:56.11</div>
<div class="t" style="top:496.45px;font-size:12.5px;line-height:14.5px;color:#e022e0;letter-spacing:-0.25px;left:307.5px;">RSI3:56.11</div>
<div class="t" style="top:3.80px;font-size:12px;line-height:14px;color:#e4e8f0;letter-spacing:-0.1px;left:92.5px;">LME</div>
<div class="t g" style="left:117.0px;top:3.7px;font-size:12.5px;line-height:12.5px;color:#e4e8f0">铜</div>
<div class="t g" style="left:128.5px;top:3.7px;font-size:12.5px;line-height:12.5px;color:#ff6600">【日线】</div>
<div class="t" style="top:596.80px;font-size:12px;line-height:14px;color:#fff;font-weight:bold;letter-spacing:0.2px;left:131px;">2024/12</div>
<div class="t" style="top:596.80px;font-size:12px;line-height:14px;color:#fff;font-weight:bold;letter-spacing:0.2px;left:271px;">2025/01</div>
<div class="t" style="top:596.80px;font-size:12px;line-height:14px;color:#fff;font-weight:bold;letter-spacing:0.2px;left:425.5px;">2025/02</div>
<div class="t" style="top:596.80px;font-size:12px;line-height:14px;color:#fff;font-weight:bold;letter-spacing:0.2px;left:565.5px;">2025/03</div>
<div class="t" style="top:596.80px;font-size:12px;line-height:14px;color:#fff;font-weight:bold;letter-spacing:0.2px;left:712.5px;">2025/04</div>
<div class="t" style="top:596.80px;font-size:12px;line-height:14px;color:#fff;font-weight:bold;left:890px;">5</div>
<div class="t" style="top:596.00px;font-size:13px;line-height:15px;color:#f5a032;letter-spacing:-0.1px;left:781px;">2025/04/15</div>
<div class="t g" style="left:849.7px;top:597.4px;font-size:12.3px;line-height:12.3px;color:#f5a032">星期二</div>
<div class="t g" style="left:34.0px;top:600.0px;font-size:12px;line-height:12px;color:#ff6600;font-weight:bold">日</div>
<div class="t g" style="left:47.0px;top:600.0px;font-size:12px;line-height:12px;color:#ff6600;font-weight:bold">线</div>
<div class="t" style="top:579.50px;font-size:29px;line-height:31px;color:#e8e8f0;letter-spacing:3.05px;left:921.3px;font-weight:normal;">FX678</div>
<div class="t" style="top:617.30px;font-size:12px;line-height:14px;color:#b4b4b4;font-family:'Liberation Mono',monospace;left:166.0px;transform:scaleX(0.8333);transform-origin:0 50%;">MA</div>
<div class="t" style="top:617.30px;font-size:12px;line-height:14px;color:#b4b4b4;font-family:'Liberation Mono',monospace;left:194.0px;transform:scaleX(0.8333);transform-origin:0 50%;">MACD</div>
<div class="t" style="top:617.30px;font-size:12px;line-height:14px;color:#b4b4b4;font-family:'Liberation Mono',monospace;left:234.0px;transform:scaleX(0.8333);transform-origin:0 50%;">BIAS</div>
<div class="t" style="top:617.30px;font-size:12px;line-height:14px;color:#b4b4b4;font-family:'Liberation Mono',monospace;left:274.0px;transform:scaleX(0.8333);transform-origin:0 50%;">CCI</div>
<div class="t" style="top:617.30px;font-size:12px;line-height:14px;color:#b4b4b4;font-family:'Liberation Mono',monospace;left:308.0px;transform:scaleX(0.8333);transform-origin:0 50%;">KDJ</div>
<div class="t" style="top:617.30px;font-size:12px;line-height:14px;color:#b4b4b4;font-family:'Liberation Mono',monospace;left:342px;transform:scaleX(0.8333);transform-origin:0 50%;">LW&amp;</div>
<div class="t" style="top:617.30px;font-size:12px;line-height:14px;color:#b4b4b4;font-family:'Liberation Mono',monospace;left:381.5px;transform:scaleX(0.8333);transform-origin:0 50%;">RSI</div>
<div class="t" style="top:617.30px;font-size:12px;line-height:14px;color:#b4b4b4;font-family:'Liberation Mono',monospace;left:415.5px;transform:scaleX(0.8333);transform-origin:0 50%;">CR</div>
<div class="t" style="top:617.30px;font-size:12px;line-height:14px;color:#b4b4b4;font-family:'Liberation Mono',monospace;left:444.0px;transform:scaleX(0.8333);transform-origin:0 50%;">PSY</div>
<div class="t" style="top:617.30px;font-size:12px;line-height:14px;color:#b4b4b4;font-family:'Liberation Mono',monospace;left:478.0px;transform:scaleX(0.8333);transform-origin:0 50%;">BOLL</div>
<div class="t" style="top:617.30px;font-size:12px;line-height:14px;color:#b4b4b4;font-family:'Liberation Mono',monospace;left:518.0px;transform:scaleX(0.8333);transform-origin:0 50%;">VOL</div>
<div class="t" style="top:617.30px;font-size:12px;line-height:14px;color:#b4b4b4;font-family:'Liberation Mono',monospace;left:552.0px;transform:scaleX(0.8333);transform-origin:0 50%;">OBV</div>
<div class="t g" style="left:28.0px;top:617.0px;font-size:12px;line-height:12px;color:#ffffff">指标</div>
<div class="t g" style="left:68.0px;top:617.0px;font-size:12px;line-height:12px;color:#ffffff">模板</div>
<div class="t" style="top:617.30px;font-size:12px;line-height:14px;color:#ff6600;font-family:'Liberation Mono',monospace;left:108px;transform:scaleX(0.8333);transform-origin:0 50%;">VIP</div>
<div class="t g" style="left:126.0px;top:617.0px;font-size:12px;line-height:12px;color:#ff6600">指标</div>
<div class="t g" style="left:586.0px;top:617.0px;font-size:12px;line-height:12px;color:#d0d0d0">设置</div>
</body></html>
